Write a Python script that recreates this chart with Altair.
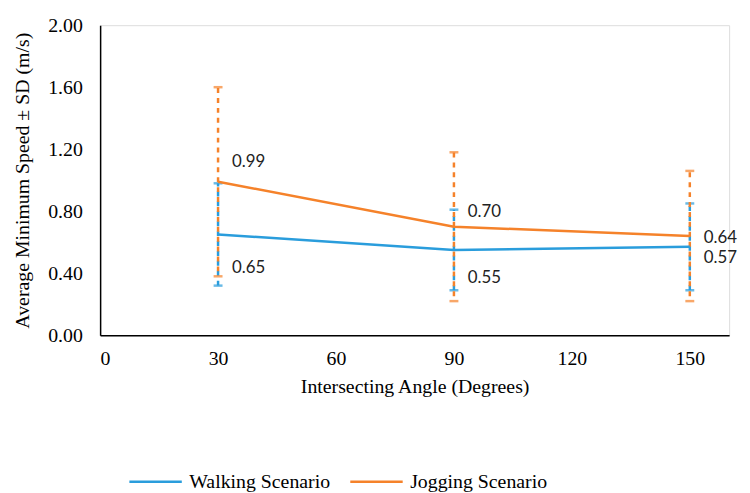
import altair as alt
import pandas as pd

angles = [30, 90, 150]
series = ["Walking Scenario", "Jogging Scenario"]
walk_mean = [0.65, 0.55, 0.57]
walk_sd = [0.33, 0.26, 0.28]
jog_mean = [0.99, 0.70, 0.64]
jog_sd = [0.61, 0.48, 0.42]
walk_labels = ["0.65", "0.55", "0.57"]
jog_labels = ["0.99", "0.70", "0.64"]
x_ticks = [0, 30, 60, 90, 120, 150]
y_ticks = [0.0, 0.4, 0.8, 1.2, 1.6, 2.0]

colors = ["#2A9DDC", "#F5822A"]
# label pixel offsets (style)
walk_dy = [34, 28, 11]
jog_dy = [-20, -15, 2]

rows = []
for i, a in enumerate(angles):
    rows.append(dict(series=series[0], angle=a, mean=walk_mean[i],
                     lo=walk_mean[i] - walk_sd[i], hi=walk_mean[i] + walk_sd[i],
                     label=walk_labels[i], idx=i))
    rows.append(dict(series=series[1], angle=a, mean=jog_mean[i],
                     lo=jog_mean[i] - jog_sd[i], hi=jog_mean[i] + jog_sd[i],
                     label=jog_labels[i], idx=i))
df = pd.DataFrame(rows)

serif = "Liberation Serif"
x = alt.X("angle:Q", scale=alt.Scale(domain=[0, 160], nice=False),
          axis=alt.Axis(values=x_ticks, title="Intersecting Angle (Degrees)",
                        grid=False, ticks=False, labelFont=serif, labelFontSize=20,
                        titleFont=serif, titleFontSize=20, titleFontWeight="normal",
                        labelColor="#000", titleColor="#000", domainColor="#000",
                        domainWidth=1.5, labelPadding=14, titlePadding=8))
y = alt.Y("mean:Q", scale=alt.Scale(domain=[0, 2]),
          axis=alt.Axis(values=y_ticks, format=".2f",
                        title="Average Minimum Speed ± SD (m/s)",
                        grid=False, ticks=False, labelFont=serif, labelFontSize=20,
                        titleFont=serif, titleFontSize=20, titleFontWeight="normal",
                        labelColor="#000", titleColor="#000", domainColor="#000",
                        domainWidth=1.5, labelPadding=18, titlePadding=15))
color = alt.Color("series:N", scale=alt.Scale(domain=series, range=colors),
                  legend=alt.Legend(orient="none", legendX=28, legendY=433,
                                    title=None, symbolType="stroke",
                                    symbolStrokeWidth=2.5, symbolSize=2800,
                                    labelOffset=6,
                                    labelFont=serif, labelFontSize=20, labelColor="#000",
                                    columnPadding=14, direction="horizontal"))

base = alt.Chart(df)

lines = base.mark_line(strokeWidth=2.5).encode(x=x, y=y, color=color)

layers = []
for s, c, dash_off in [(series[0], colors[0], 0), (series[1], colors[1], 5)]:
    sub = base.transform_filter(alt.datum.series == s)
    layers.append(sub.mark_rule(color=c, strokeWidth=2.5, strokeDash=[5, 5],
                                strokeDashOffset=dash_off).encode(
        x="angle:Q", y="lo:Q", y2="hi:Q"))
    layers.append(sub.mark_tick(color=c, orient="horizontal", size=9, thickness=2.5).encode(
        x="angle:Q", y="lo:Q"))
    layers.append(sub.mark_tick(color=c, orient="horizontal", size=9, thickness=2.5).encode(
        x="angle:Q", y="hi:Q"))

texts = []
for i in range(len(angles)):
    for s, dys in [(series[0], walk_dy), (series[1], jog_dy)]:
        texts.append(base.transform_filter(
            (alt.datum.series == s) & (alt.datum.idx == i)
        ).mark_text(align="left", baseline="middle", dx=14, dy=dys[i],
                    font="Lato", fontSize=17, color="#222").encode(
            x="angle:Q", y="mean:Q", text="label:N"))

chart = alt.layer(*layers, lines, *texts).properties(
    width=635, height=313
).configure_view(stroke=None).configure(background="white")

chart.save("out.html", embed_options={"renderer": "svg", "actions": False})
